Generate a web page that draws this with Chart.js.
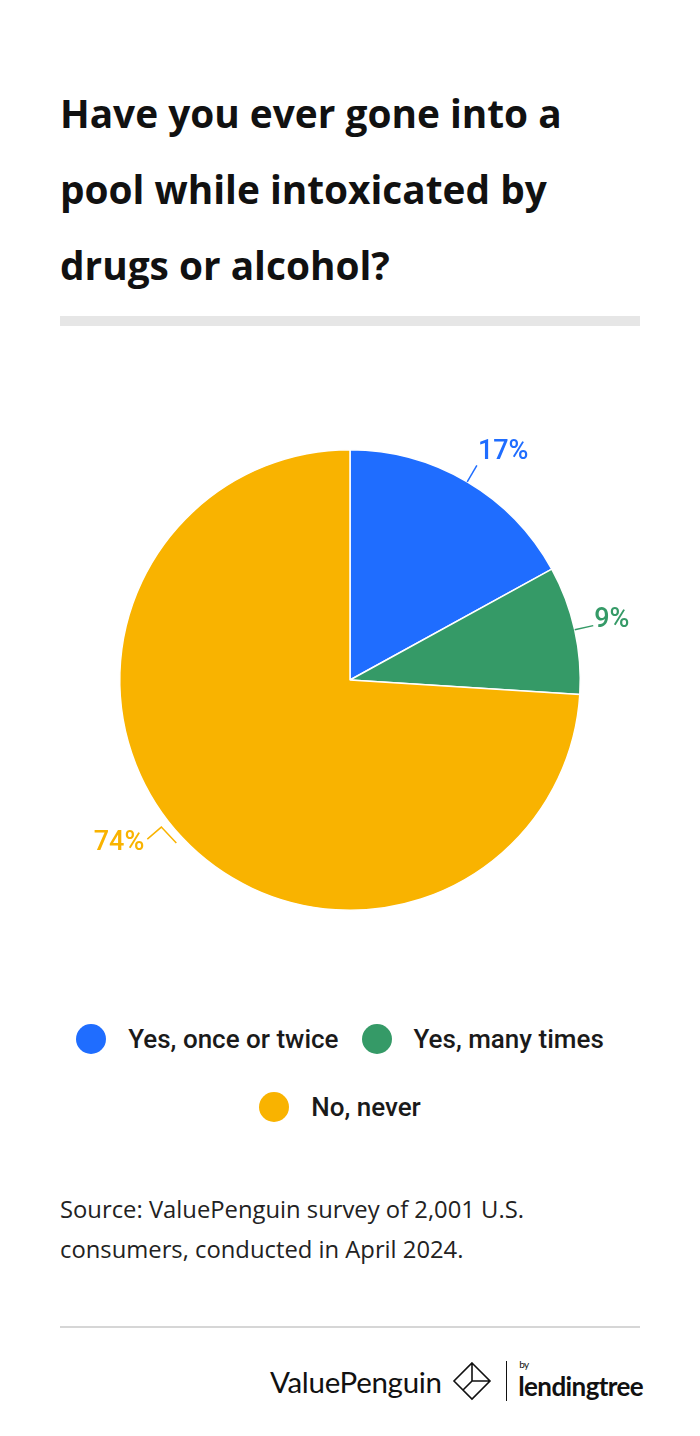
<!DOCTYPE html>
<html>
<head>
<meta charset="utf-8">
<script src="https://cdn.jsdelivr.net/npm/chart.js@4"></script>
<style>
  body { margin: 0; background: #fff; width: 700px; height: 1436px; position: relative; overflow: hidden; }
  .abs { position: absolute; }
  #title { left: 60px; top: 75px; width: 580px; font-family: "Open Sans"; font-weight: 700; font-size: 38.8px; line-height: 76px; color: #111; margin: 0; }
  #bar { left: 60px; top: 316px; width: 580px; height: 10px; background: #e6e6e6; }
  #chartBox { left: 0; top: 420px; width: 700px; height: 520px; }
  #legend { left: 0; top: 1024px; width: 680px; display: flex; flex-wrap: wrap; justify-content: center; row-gap: 19px; column-gap: 23px; font-family: Roboto; font-weight: 500; font-size: 26px; color: #1a1a1a; }
  #legend .item { display: flex; align-items: center; height: 30px; }
  #legend .dot { width: 30px; height: 30px; border-radius: 50%; margin-right: 22px; }
  #legend .break { flex-basis: 100%; height: 0; }
  #source { left: 60px; top: 1189px; width: 520px; font-family: "Open Sans"; font-size: 23.8px; line-height: 40px; color: #222; }
  #rule { left: 60px; top: 1326px; width: 580px; height: 2px; background: #d6d6d6; }
  #logo { left: 270px; top: 1358px; height: 46px; display: flex; align-items: center; font-family: Lato; color: #111; }
</style>
</head>
<body>
<h1 id="title" class="abs">Have you ever gone into a pool while intoxicated by drugs or alcohol?</h1>
<div id="bar" class="abs"></div>
<div id="chartBox" class="abs"><canvas id="pie"></canvas></div>
<div id="legend" class="abs"></div>
<div id="source" class="abs">Source: ValuePenguin survey of 2,001 U.S. consumers, conducted in April 2024.</div>
<div id="rule" class="abs"></div>
<div id="logo" class="abs">
  <span style="font-size:29.5px;font-weight:400;letter-spacing:-0.3px;">ValuePenguin</span>
  <svg width="40" height="40" viewBox="0 0 40 40" style="margin-left:10px" fill="none" stroke="#111" stroke-width="1.6">
    <path d="M20 2 L38 20 L20 38 L2 20 Z M20 2 L20 20 L38 20 M20 20 L11 29"/>
  </svg>
  <span style="display:inline-block;width:1.5px;height:40px;background:#111;margin:0 11px 0 14px;"></span>
  <span style="position:relative;font-size:26px;font-weight:700;letter-spacing:-0.6px;padding-top:10px;">
    <span style="position:absolute;left:1px;top:-2px;font-size:10px;font-weight:400;">by</span>lendingtree</span>
</div>
<script>
const categories = ['Yes, once or twice', 'Yes, many times', 'No, never'];
const shares = [17, 9, 74];
const sliceColors = ['#1f6dff', '#359a67', '#f9b300'];

// legend (html, built from the arrays)
const legendEl = document.getElementById('legend');
categories.forEach((name, i) => {
  if (i === 2) {
    const br = document.createElement('div');
    br.className = 'break';
    legendEl.appendChild(br);
  }
  const item = document.createElement('div');
  item.className = 'item';
  item.innerHTML = `<span class="dot" style="background:${sliceColors[i]}"></span><span>${name}</span>`;
  legendEl.appendChild(item);
});

// outside labels with leader lines
const outsideLabels = {
  id: 'outsideLabels',
  afterDatasetsDraw(chart) {
    const ctx = chart.ctx;
    const meta = chart.getDatasetMeta(0);
    meta.data.forEach((arc, i) => {
      const mid = (arc.startAngle + arc.endAngle) / 2;
      const r = arc.outerRadius;
      const cx = arc.x, cy = arc.y;
      const cos = Math.cos(mid), sin = Math.sin(mid);
      const left = cos < 0;
      ctx.save();
      ctx.strokeStyle = sliceColors[i];
      ctx.fillStyle = sliceColors[i];
      ctx.lineWidth = 1.5;
      ctx.beginPath();
      let ex, ey;
      if (left) {
        // small zigzag leader on the left side
        const sx = cx + cos * (r + 8), sy = cy + sin * (r + 8);
        ctx.moveTo(sx, sy);
        ctx.lineTo(sx - 15, sy - 16);
        ctx.lineTo(sx - 29, sy - 4);
        ex = sx - 29; ey = sy - 4;
      } else {
        ctx.moveTo(cx + cos * r, cy + sin * r);
        ex = cx + cos * (r + 19); ey = cy + sin * (r + 19);
        ctx.lineTo(ex, ey);
      }
      ctx.stroke();
      ctx.font = '500 27px Roboto';
      ctx.textBaseline = 'middle';
      ctx.textAlign = left ? 'right' : 'left';
      const ty = left ? ey + 4 : ey + sin * 12 - 3;
      ctx.fillText(shares[i] + '%', left ? ex - 3 : ex + 1, ty);
      ctx.restore();
    });
  }
};

new Chart(document.getElementById('pie'), {
  type: 'pie',
  data: {
    labels: categories,
    datasets: [{
      data: shares,
      backgroundColor: sliceColors,
      borderColor: '#ffffff',
      borderWidth: 1.5
    }]
  },
  options: {
    responsive: true,
    maintainAspectRatio: false,
    animation: false,
    layout: { padding: { top: 29, bottom: 29 } },
    plugins: {
      legend: { display: false },
      tooltip: { enabled: false }
    }
  },
  plugins: [outsideLabels]
});
</script>
</body>
</html>
